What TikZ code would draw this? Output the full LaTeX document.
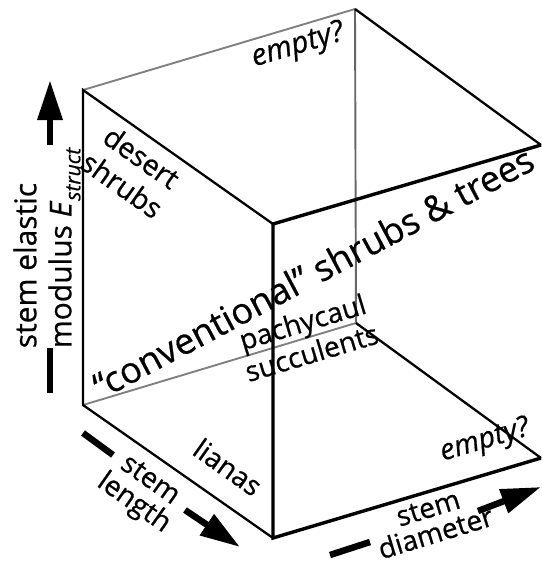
\documentclass[tikz,border=0pt]{standalone}
\usepackage{fontspec}
\setmainfont{Open Sans}[RawFeature={embolden=0.6}]
\usetikzlibrary{arrows.meta}

\begin{document}
\begin{tikzpicture}[x=1pt,y=-1pt,
  edge/.style={line width=2.3pt},
  frontedge/.style={line width=3.4pt},
  backedge/.style={line width=1.9pt, black!50},
  lbl/.style={inner sep=0pt, align=center, font=\fontsize{27}{31}\selectfont},
  axisbar/.style={line width=6.5pt},
  axisarrow/.style={line width=6.5pt, -{Triangle[length=40pt,width=24pt]}}]
\useasboundingbox (0,0) rectangle (541,565);

% corners of the trait cube
\coordinate (LT) at (83,90);
\coordinate (BT) at (355,9);
\coordinate (FT) at (273,224);
\coordinate (RT) at (541,145);
\coordinate (LB) at (83,405);
\coordinate (BB) at (356,323);
\coordinate (FB) at (273,538);
\coordinate (RB) at (541,458);

% hidden (back) edges
\draw[backedge] (LT) -- (BT);
\draw[backedge, black!60] (BT) -- (BB);
\draw[backedge] (LB) -- (BB);
% side edges
\draw[edge] (FT) -- (LT) -- (LB) -- (FB);
\draw[edge] (BT) -- (RT);
\draw[edge] (BB) -- (RB);

% region labels
\node[lbl, rotate=16.6, font=\fontsize{30}{34}\selectfont\itshape] (emptytop) at (298,46) {empty?};
\node[lbl, rotate=-35.2, font=\fontsize{28.5}{34}\selectfont] (desert) at (132,171) {desert\\shrubs};
\node[lbl, rotate=28, font=\fontsize{36}{40}\selectfont] (conv) at (313,272) {“conventional” shrubs \& trees};
\node[lbl, rotate=16.7, font=\fontsize{28}{32}\selectfont] (pachy) at (307,337) {pachycaul\\succulents};
\node[lbl, rotate=-35.2, font=\fontsize{28}{32}\selectfont] (lianas) at (228,467) {lianas};
\node[lbl, rotate=16.6, font=\fontsize{29}{33}\selectfont\itshape] (emptybot) at (485,441) {empty?};

% front face drawn over the labels
\draw[frontedge] (RT) -- (FT) -- (FB) -- (RB);

% axis labels
\node[lbl, rotate=90, align=left, font=\fontsize{30}{35}\selectfont] (yaxis) at (47,248)
  {stem elastic\\modulus \textit{E}\raisebox{-0.3em}{\fontsize{21}{21}\selectfont\itshape struct}};
\node[lbl, rotate=-35.2, font=\fontsize{28}{28}\selectfont] (xaxis) at (141,493) {stem\\length};
\node[lbl, rotate=17, font=\fontsize{28}{26}\selectfont] (zaxis) at (432,521) {stem\\diameter};

% axis arrows, each broken by its label
\coordinate (ya) at (50,393);
\coordinate (yb) at (50,348);
\coordinate (yc) at (50,145);
\coordinate (yd) at (50,80);
\draw[axisbar] (ya) -- (yb);
\draw[axisarrow] (yc) -- (yd);

\coordinate (xa) at (83,433);
\coordinate (xb) at (113,455);
\coordinate (xc) at (185,510);
\coordinate (xd) at (240,547);
\draw[axisbar] (xa) -- (xb);
\draw[axisarrow] (xc) -- (xd);

\coordinate (za) at (330,555);
\coordinate (zb) at (370,542);
\coordinate (zc) at (478,511);
\coordinate (zd) at (541,487);
\draw[axisbar] (za) -- (zb);
\draw[axisarrow] (zc) -- (zd);
\end{tikzpicture}
\end{document}
